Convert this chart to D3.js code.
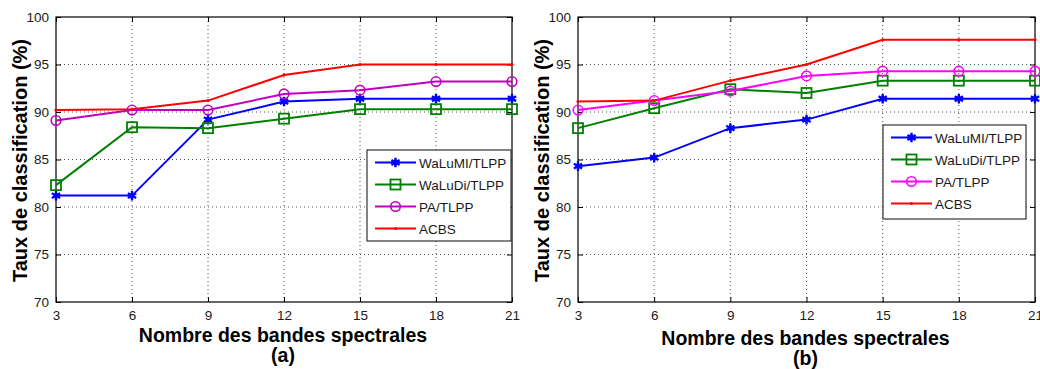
<!DOCTYPE html>
<html>
<head>
<meta charset="utf-8">
<script src="https://cdn.jsdelivr.net/npm/d3@7"></script>
<style>
  body { margin: 0; background: #fff; }
  svg { display: block; font-family: "Liberation Sans", Arial, sans-serif; }
</style>
</head>
<body>
<svg id="chart" width="1040" height="369"></svg>
<script>
// data
const bands = [3, 6, 9, 12, 15, 18, 21];
const yTicks = [70, 75, 80, 85, 90, 95, 100];
const seriesNames = ['WaLuMI/TLPP', 'WaLuDi/TLPP', 'PA/TLPP', 'ACBS'];

// panel (a)
const aWaLuMI = [81.2, 81.2, 89.2, 91.1, 91.4, 91.4, 91.4];
const aWaLuDi = [82.3, 88.4, 88.3, 89.3, 90.3, 90.3, 90.3];
const aPA     = [89.1, 90.2, 90.2, 91.9, 92.3, 93.2, 93.2];
const aACBS   = [90.2, 90.3, 91.2, 93.9, 95.0, 95.0, 95.0];

// panel (b)
const bWaLuMI = [84.3, 85.2, 88.3, 89.2, 91.4, 91.4, 91.4];
const bWaLuDi = [88.3, 90.4, 92.4, 92.0, 93.3, 93.3, 93.3];
const bPA     = [90.2, 91.2, 92.2, 93.8, 94.3, 94.3, 94.3];
const bACBS   = [91.1, 91.2, 93.3, 95.0, 97.6, 97.6, 97.6];

const svg = d3.select('#chart');

const markers = ['star', 'square', 'circle', 'dot'];

const drawMarker = (sel, type, color) => {
  if (type === 'star') {
    sel.append('path')
      .attr('d', d3.symbol().type(d3.symbolAsterisk).size(64)())
      .attr('fill', 'none')
      .attr('stroke', color)
      .attr('stroke-width', 2.4);
    sel.append('path')
      .attr('d', d3.symbol().type(d3.symbolDiamond).size(22)())
      .attr('fill', color);
  } else if (type === 'square') {
    sel.append('rect')
      .attr('x', -5).attr('y', -5).attr('width', 10).attr('height', 10)
      .attr('fill', 'none')
      .attr('stroke', color)
      .attr('stroke-width', 1.8);
  } else if (type === 'circle') {
    sel.append('circle')
      .attr('r', 4.8)
      .attr('fill', 'none')
      .attr('stroke', color)
      .attr('stroke-width', 1.6);
  } else {
    sel.append('circle').attr('r', 1.6).attr('fill', color);
  }
};

const drawPanel = (p) => {
  const innerWidth = p.x1 - p.x0;
  const innerHeight = p.y1 - p.y0;

  const xScale = d3.scaleLinear().domain([3, 21]).range([0, innerWidth]);
  const yScale = d3.scaleLinear().domain([70, 100]).range([innerHeight, 0]);

  const g = svg.append('g')
      .attr('transform', 'translate(' + p.x0 + ',' + p.y0 + ')');

  // dotted grid
  g.append('g').selectAll('line')
    .data(bands.slice(1, -1))
    .enter().append('line')
      .attr('x1', d => xScale(d)).attr('x2', d => xScale(d))
      .attr('y1', 0).attr('y2', innerHeight)
      .attr('stroke', '#555').attr('stroke-dasharray', '1,3');
  g.append('g').selectAll('line')
    .data(yTicks.slice(1, -1))
    .enter().append('line')
      .attr('y1', d => yScale(d)).attr('y2', d => yScale(d))
      .attr('x1', 0).attr('x2', innerWidth)
      .attr('stroke', '#555').attr('stroke-dasharray', '1,3');

  // axes (ticks inward, matlab style)
  const styleAxis = ax => {
    ax.select('.domain').remove();
    ax.selectAll('line').attr('stroke', '#000');
    ax.selectAll('text')
      .attr('fill', '#1a1a1a')
      .style('font-size', '13.5px')
      .style('font-family', '"Liberation Sans", Arial, sans-serif');
  };

  g.append('g')
      .attr('transform', 'translate(0,' + innerHeight + ')')
      .call(d3.axisBottom(xScale).tickValues(bands).tickFormat(d3.format('d'))
        .tickSizeInner(-5).tickPadding(8))
      .call(styleAxis);
  g.append('g')
      .call(d3.axisTop(xScale).tickValues(bands).tickFormat('')
        .tickSizeInner(-5))
      .call(styleAxis);
  g.append('g')
      .call(d3.axisLeft(yScale).tickValues(yTicks).tickFormat(d3.format('d'))
        .tickSizeInner(-5).tickPadding(7))
      .call(styleAxis);
  g.append('g')
      .attr('transform', 'translate(' + innerWidth + ',0)')
      .call(d3.axisRight(yScale).tickValues(yTicks).tickFormat('')
        .tickSizeInner(-5))
      .call(styleAxis);

  // frame
  g.append('rect')
      .attr('width', innerWidth).attr('height', innerHeight)
      .attr('fill', 'none').attr('stroke', '#000').attr('stroke-width', 1.2);

  // lines
  const line = d3.line()
      .x((d, i) => xScale(bands[i]))
      .y(d => yScale(d));

  p.series.forEach((vals, k) => {
    g.append('path')
        .datum(vals)
        .attr('d', line)
        .attr('fill', 'none')
        .attr('stroke', p.colors[k])
        .attr('stroke-width', 2);
  });
  p.series.forEach((vals, k) => {
    vals.forEach((v, i) => {
      const m = g.append('g')
          .attr('transform', 'translate(' + xScale(bands[i]) + ',' + yScale(v) + ')');
      drawMarker(m, markers[k], p.colors[k]);
    });
  });

  // legend
  const lg = svg.append('g')
      .attr('transform', 'translate(' + p.legend.x + ',' + p.legend.y + ')');
  lg.append('rect')
      .attr('width', p.legend.w).attr('height', p.legend.h)
      .attr('fill', '#fff').attr('stroke', '#333').attr('stroke-width', 1.2);
  seriesNames.forEach((name, k) => {
    const ry = 12.5 + k * 22;
    lg.append('line')
        .attr('x1', 8).attr('x2', 49).attr('y1', ry).attr('y2', ry)
        .attr('stroke', p.colors[k]).attr('stroke-width', 2);
    drawMarker(lg.append('g').attr('transform', 'translate(28.5,' + ry + ')'), markers[k], p.colors[k]);
    lg.append('text')
        .attr('x', 52).attr('y', ry + 5)
        .style('font-size', '13.5px')
        .attr('fill', '#1a1a1a')
        .text(name);
  });

  // axis titles
  svg.append('text')
      .attr('transform', 'translate(' + (p.x0 - 29) + ',' + ((p.y0 + p.y1) / 2 + 1) + ') rotate(-90)')
      .attr('text-anchor', 'middle')
      .style('font-size', '20px').style('font-weight', 'bold')
      .text('Taux de classification (%)');
  svg.append('text')
      .attr('x', (p.x0 + p.x1) / 2 - 1).attr('y', p.titleY)
      .attr('text-anchor', 'middle')
      .style('font-size', '19.5px').style('font-weight', 'bold')
      .text('Nombre des bandes spectrales');
  svg.append('text')
      .attr('x', (p.x0 + p.x1) / 2 - 1).attr('y', p.titleY + 20)
      .attr('text-anchor', 'middle')
      .style('font-size', '19.5px').style('font-weight', 'bold')
      .text(p.label);
};

drawPanel({
  x0: 56, x1: 512, y0: 17, y1: 302,
  series: [aWaLuMI, aWaLuDi, aPA, aACBS],
  colors: ['#0000ff', '#008000', '#bf00bf', '#ff0000'],
  legend: { x: 367, y: 150, w: 144, h: 91 },
  titleY: 342,
  label: '(a)'
});

drawPanel({
  x0: 578, x1: 1035, y0: 17, y1: 302,
  series: [bWaLuMI, bWaLuDi, bPA, bACBS],
  colors: ['#0000ff', '#008000', '#ff00ff', '#ff0000'],
  legend: { x: 883, y: 125, w: 143, h: 94 },
  titleY: 345,
  label: '(b)'
});
</script>
</body>
</html>
